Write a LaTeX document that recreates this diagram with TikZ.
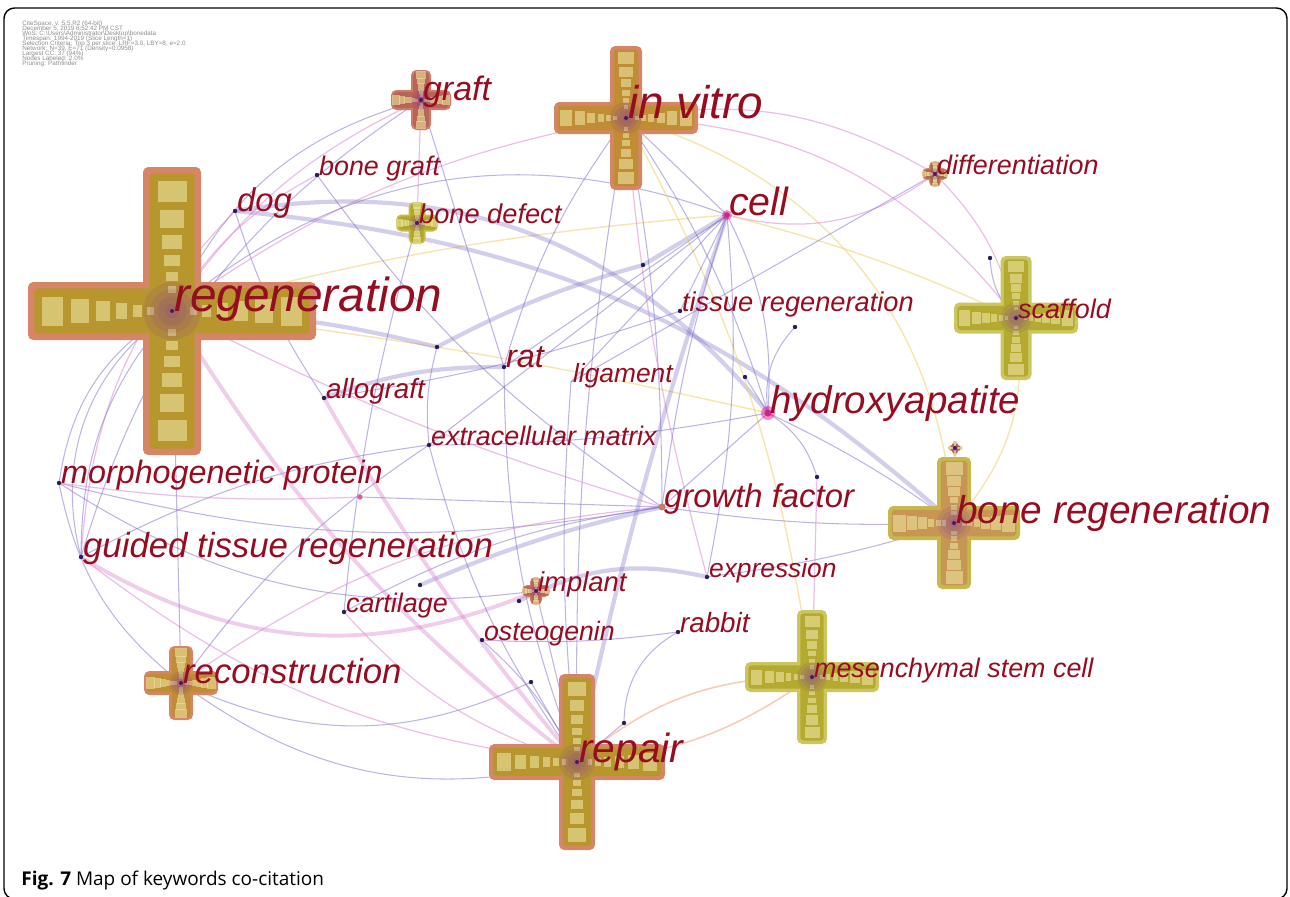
\documentclass[tikz,border=0pt]{standalone}
\usepackage{fontspec}
\setmainfont{Liberation Sans}
\newfontfamily\capfont{Open Sans}
\usetikzlibrary{positioning}
\tikzset{>=latex}

\definecolor{kwred}{RGB}{150,12,32}
\definecolor{lavc}{RGB}{125,105,200}
\definecolor{pinkc}{RGB}{215,130,205}
\definecolor{ylwc}{RGB}{238,212,120}
\definecolor{pchc}{RGB}{242,172,140}
\definecolor{dotc}{RGB}{40,30,90}
\definecolor{salm}{RGB}{214,134,102}
\definecolor{oliv}{RGB}{184,150,46}
\definecolor{ochr}{RGB}{192,140,52}
\definecolor{rose}{RGB}{206,122,104}
\definecolor{rosed}{RGB}{184,100,86}
\definecolor{ylol}{RGB}{196,190,70}
\definecolor{ylold}{RGB}{176,168,42}
\definecolor{brwn}{RGB}{172,110,70}
\definecolor{grol}{RGB}{204,198,96}
\definecolor{grold}{RGB}{180,170,48}
\definecolor{bgout}{RGB}{198,184,74}
\definecolor{bgin}{RGB}{198,150,82}
\definecolor{sqc}{RGB}{236,228,160}
\definecolor{glowc}{RGB}{120,40,175}

\tikzset{
  lav/.style={draw=lavc, opacity=.5, line width=.6pt},
  lavthick/.style={draw=lavc, opacity=.33, line width=2.4pt},
  pnk/.style={draw=pinkc, opacity=.5, line width=.7pt},
  pnkthick/.style={draw=pinkc, opacity=.4, line width=2.2pt},
  ylw/.style={draw=ylwc, opacity=.6, line width=.8pt},
  pch/.style={draw=pchc, opacity=.6, line width=.9pt},
  kwsq/.style={fill=sqc, opacity=.6},
  kwglow/.style={fill=glowc, opacity=.12},
  kwdot/.style={fill=dotc},
  kw/.style={anchor=base west, inner sep=0pt, xshift=1pt, text=kwred, font=\itshape\fontsize{#1}{#1}\selectfont},
  info/.style={anchor=north west, inner sep=0pt, align=left, text=black!45, font={\fontsize{3.6}{2.85}\selectfont\lineskiplimit-5pt}}
}

\newcommand{\kwcross}[5]{%
  \begin{scope}[shift={(#1)}]
    \fill[#4,rounded corners=3pt] (-#2,-#3) rectangle (#2,#3);
    \fill[#4,rounded corners=3pt] (-#3,-#2) rectangle (#3,#2);
    \fill[#5,rounded corners=2pt] ({-#2+0.22*#3},{-0.78*#3}) rectangle ({#2-0.22*#3},{0.78*#3});
    \fill[#5,rounded corners=2pt] ({-0.78*#3},{-#2+0.22*#3}) rectangle ({0.78*#3},{#2-0.22*#3});
    \foreach \f/\g in {0.83/0.5,0.64/0.41,0.48/0.33,0.35/0.26,0.24/0.2,0.15/0.15}{
      \pgfmathsetmacro\kd{\f*#2}
      \pgfmathsetmacro\ks{\g*#3}
      \pgfmathsetmacro\ka{0.75*\g*#3}
      \fill[kwsq] (\kd-\ka,-\ks) rectangle (\kd+\ka,\ks);
      \fill[kwsq] (-\kd-\ka,-\ks) rectangle (-\kd+\ka,\ks);
      \fill[kwsq] (-\ks,\kd-\ka) rectangle (\ks,\kd+\ka);
      \fill[kwsq] (-\ks,-\kd-\ka) rectangle (\ks,-\kd+\ka);
    }
    \foreach \r in {1,...,4}
      \fill[kwglow] (0,0) circle ({0.25*\r*#3});
    \fill[glowc!60!black] (0,0) circle (2);
  \end{scope}}

\begin{document}
\begin{tikzpicture}[x=0.02cm,y=-0.02cm]
\useasboundingbox (0,0) rectangle (1290,896);

\coordinate (1) at (172,311);
\coordinate (2) at (626,118);
\coordinate (3) at (421,100);
\coordinate (4) at (317,175);
\coordinate (5) at (235,211);
\coordinate (6) at (417,223);
\coordinate (7) at (727,215);
\coordinate (8) at (935,174);
\coordinate (9) at (1016,318);
\coordinate (10) at (990,258);
\coordinate (11) at (680,311);
\coordinate (12) at (643,265);
\coordinate (13) at (437,347);
\coordinate (14) at (795,327);
\coordinate (15) at (504,367);
\coordinate (16) at (571,382);
\coordinate (17) at (745,377);
\coordinate (18) at (324,398);
\coordinate (19) at (768,413);
\coordinate (20) at (429,445);
\coordinate (21) at (817,477);
\coordinate (22) at (360,497);
\coordinate (23) at (59,483);
\coordinate (24) at (662,507);
\coordinate (25) at (954,523);
\coordinate (26) at (955,448);
\coordinate (27) at (81,557);
\coordinate (28) at (536,591);
\coordinate (29) at (519,601);
\coordinate (30) at (420,585);
\coordinate (31) at (707,577);
\coordinate (32) at (344,612);
\coordinate (33) at (482,640);
\coordinate (34) at (678,632);
\coordinate (35) at (181,683);
\coordinate (36) at (531,682);
\coordinate (37) at (624,723);
\coordinate (38) at (577,762);
\coordinate (39) at (812,677);

\draw[lav] (1) to[bend left=25] (3);
\draw[pnk] (1) to[bend left=15] (3);
\draw[pnk] (1) to[bend left=12] (2);
\draw[lav] (1) to[bend left=30] (7);
\draw[ylw] (1) to[bend left=5] (7);
\draw[ylw] (1) to[bend left=3] (19);
\draw[lavthick] (5) to[bend left=30] (19);
\draw[lavthick] (5) to[bend left=18] (25);
\draw[lavthick] (1) to[bend left=6] (13);
\draw[lavthick] (13) to[bend left=6] (12);
\draw[lavthick] (12) to (7);
\draw[pnk] (3) to (6);
\draw[lav] (6) to[bend right=5] (32);
\draw[lav] (3) to (15);
\draw[lav] (3) to[bend right=20] (27);
\draw[lav] (4) to[bend right=10] (24);
\draw[pnk] (4) to[bend right=15] (1);
\draw[lav] (5) to[bend right=8] (18);
\draw[pnk] (5) to[bend right=20] (27);
\draw[lav] (1) to[bend right=35] (27);
\draw[lav] (1) to[bend right=25] (23);
\draw[lav] (23) to[bend right=20] (35);
\draw[pnkthick] (27) to[bend right=27] (28);
\draw[pnk] (27) to[bend right=15] (38);
\draw[lav] (23) to[bend right=12] (24);
\draw[lav] (23) to[bend right=20] (28);
\draw[lav] (27) to[bend left=20] (1);
\draw[lav] (27) to[bend left=10] (20);
\draw[lav] (35) to (1);
\draw[lav] (35) to[bend right=25] (36);
\draw[lav] (35) to[bend right=25] (38);
\draw[lav] (35) to[bend left=10] (20);
\draw[pnk] (35) to[bend left=15] (24);
\draw[lav] (32) to[bend left=10] (24);
\draw[lavthick] (30) to[bend left=5] (24);
\draw[lav] (33) to[bend right=5] (34);
\draw[lav] (33) to[bend left=10] (38);
\draw[pnk] (32) to[bend right=15] (38);
\draw[lav] (28) to (38);
\draw[lavthick] (29) to[bend left=20] (31);
\draw[lav] (36) to (38);
\draw[lav] (34) to[bend right=30] (37);
\draw[lav] (37) to (38);
\draw[pch] (38) to[bend left=20] (39);
\draw[pch] (38) to[bend right=15] (39);
\draw[lav] (2) to[bend right=5] (38);
\draw[lav] (2) to[bend left=5] (24);
\draw[lav] (2) to (7);
\draw[lav] (2) to[bend left=8] (19);
\draw[lav] (2) to[bend right=10] (15);
\draw[pnk] (2) to[bend left=20] (8);
\draw[pnk] (2) to[bend left=25] (9);
\draw[ylw] (2) to[bend left=35] (25);
\draw[ylw] (2) to[bend left=10] (39);
\draw[pnk] (2) to[bend right=5] (31);
\draw[pnk] (7) to[bend right=25] (8);
\draw[ylw] (7) to[bend left=5] (9);
\draw[lav] (7) to (11);
\draw[lav] (7) to (16);
\draw[lav] (7) to (20);
\draw[lav] (7) to[bend right=5] (24);
\draw[lav] (7) to[bend left=15] (19);
\draw[lavthick] (7) to[bend right=3] (38);
\draw[lav] (7) to[bend left=8] (31);
\draw[lav] (8) to (16);
\draw[pnk] (8) to[bend left=15] (9);
\draw[lav] (10) to[bend right=20] (9);
\draw[lav] (14) to[bend right=25] (19);
\draw[lav] (19) to[bend left=5] (25);
\draw[lav] (19) to[bend left=20] (21);
\draw[lav] (19) to[bend left=5] (20);
\draw[lav] (19) to (24);
\draw[lav] (17) to (19);
\draw[lav] (24) to[bend right=5] (25);
\draw[lav] (31) to[bend right=5] (25);
\draw[pnk] (21) to (39);
\draw[pnk] (26) to (25);
\draw[ylw] (9) to[bend left=25] (25);
\draw[lav] (11) to[bend left=5] (18);
\draw[lav] (15) to[bend right=10] (38);
\draw[lav] (15) to (7);
\draw[lavthick] (18) to[bend left=10] (15);
\draw[pnkthick] (18) to[bend right=5] (38);
\draw[pnkthick] (1) to[bend right=10] (38);
\draw[pnk] (1) to[bend right=5] (24);
\draw[lav] (13) to[bend right=10] (20);
\draw[pnk] (23) to[bend right=5] (22);
\draw[lav] (22) to (24);
\draw[lav] (16) to[bend right=5] (38);
\draw[lav] (20) to[bend right=10] (38);

\kwcross{1}{144}{29}{salm}{oliv}
\kwcross{2}{72}{16}{salm}{ochr}
\kwcross{3}{30}{10}{rose}{rosed}
\kwcross{6}{21}{8.5}{ylol}{ylold}
\kwcross{8}{13}{6}{salm}{brwn}
\kwcross{9}{62}{15.5}{grol}{grold}
\kwcross{25}{66}{17}{bgout}{bgin}
\kwcross{26}{7}{3.5}{rose}{rosed}
\kwcross{28}{14}{6}{rose}{rosed}
\kwcross{35}{37}{12}{salm}{ochr}
\kwcross{38}{88}{18}{salm}{oliv}
\kwcross{39}{67}{15}{grol}{grold}

\foreach \n in {4,5,10,11,12,13,14,15,17,18,20,21,23,27,29,30,31,32,33,34,36,37}
  \fill[kwdot] (\n) circle (2.2);
\fill[pinkc!70!red] (22) circle (2.6);
\fill[rose] (24) circle (3.5);
\fill[magenta, opacity=.45] (7) circle (5);
\fill[magenta!60!violet] (7) circle (2.8);
\fill[magenta, opacity=.45] (19) circle (7);
\fill[magenta!60!violet] (19) circle (3.5);

\node[kw=27.2] (l1) at (1) {regeneration};
\node[kw=26.1] (l2) at (2) {in vitro};
\node[kw=19.3] (l3) at (3) {graft};
\node[kw=15.3] (l4) at (4) {bone graft};
\node[kw=18.7] (l5) at (5) {dog};
\node[kw=15.5] (l6) at (6) {bone defect};
\node[kw=22.4] (l7) at (7) {cell};
\node[kw=15.3] (l8) at (8) {differentiation};
\node[kw=15.3] (l9) at (9) {scaffold};
\node[kw=15.5] (l11) at (11) {tissue regeneration};
\node[kw=18.4] (l15) at (15) {rat};
\node[kw=15] (l16) at (16) {ligament};
\node[kw=15.8] (l18) at (18) {allograft};
\node[kw=21.9] (l19) at (19) {hydroxyapatite};
\node[kw=15.3] (l20) at (20) {extracellular matrix};
\node[kw=18.4] (l23) at (23) {morphogenetic protein};
\node[kw=18.7] (l24) at (24) {growth factor};
\node[kw=22.1] (l25) at (25) {bone regeneration};
\node[kw=19.8] (l27) at (27) {guided tissue regeneration};
\node[kw=15.6] (l28) at (28) {implant};
\node[kw=15] (l31) at (31) {expression};
\node[kw=15.3] (l32) at (32) {cartilage};
\node[kw=15.2] (l33) at (33) {osteogenin};
\node[kw=15.8] (l34) at (34) {rabbit};
\node[kw=19.8] (l35) at (35) {reconstruction};
\node[kw=23.2] (l38) at (38) {repair};
\node[kw=15.3] (l39) at (39) {mesenchymal stem cell};

\node[info] (info) at (22,21) {CiteSpace, v. 5.5.R2 (64-bit)\\
December 5, 2019 6:52:42 PM CST\\
WoS: C:\textbackslash Users\textbackslash Administrator\textbackslash Desktop\textbackslash bonedata\\
Timespan: 1994-2019 (Slice Length=1)\\
Selection Criteria: Top 3 per slice, LRF=3.0, LBY=8, e=2.0\\
Network: N=39, E=71 (Density=0.0958)\\
Largest CC: 37 (94\%)\\
Nodes Labeled: 2.0\%\\
Pruning: Pathfinder};

\node[anchor=base west, inner sep=0pt, font=\capfont\fontsize{10.8}{13}\selectfont] (cap) at (21,885) {\textbf{Fig. 7} Map of keywords co-citation};

\draw[line width=.8pt, rounded corners=6pt] (4,899) rectangle (1287,8);

\end{tikzpicture}
\end{document}
